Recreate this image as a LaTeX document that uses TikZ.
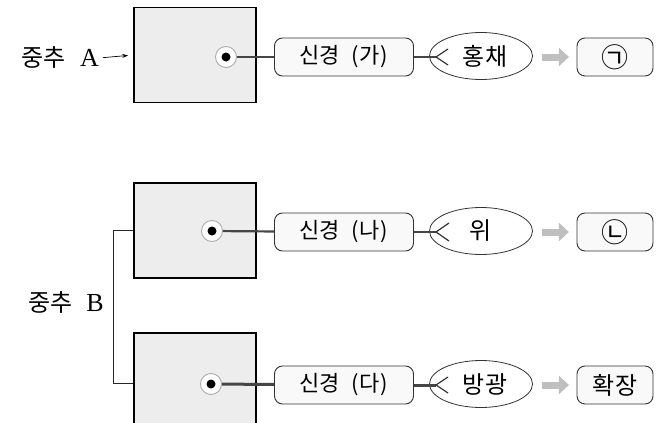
\documentclass[tikz,border=0pt]{standalone}
\usepackage{fontspec}
\setmainfont{Liberation Serif}
\newfontfamily\kor{Noto Sans CJK KR}
\usetikzlibrary{shapes.geometric,arrows.meta,positioning,calc}

\begin{document}
\begin{tikzpicture}[x=1pt, y=-1pt,
    cns/.style={rectangle, draw=black, line width=1.6pt, fill=gray!14, minimum width=122pt, minimum height=95pt},
    ring/.style={circle, draw=gray!65, fill=white, line width=0.9pt, minimum size=21pt, inner sep=0pt},
    nerve/.style={rectangle, draw=gray!40!black, fill=gray!5, rounded corners=8pt, line width=0.9pt, minimum width=139pt, minimum height=38pt, inner sep=0pt, font=\kor\fontsize{22}{24}\selectfont},
    organ/.style={ellipse, draw=gray!40!black, fill=white, line width=0.8pt, minimum width=103pt, minimum height=47pt, inner sep=0pt, font=\kor\fontsize{24}{26}\selectfont},
    effect/.style={rectangle, draw=gray!40!black, fill=gray!5, rounded corners=8pt, line width=0.9pt, minimum width=76pt, minimum height=38pt, inner sep=0pt, font=\kor\fontsize{24}{26}\selectfont},
    axon/.style={draw=gray!55!black, line width=2.2pt},
    fork/.style={draw=gray!40!black, line width=1.2pt},
    result/.style={-{Triangle[length=10pt,width=18pt]}, draw=gray!50, line width=7pt},
    pointer/.style={-{Stealth[length=6pt,width=4pt]}, line width=0.7pt, shorten >=5pt, shorten <=4pt},
    bracket/.style={draw=gray!30!black, line width=0.8pt},
    lbl/.style={inner sep=0pt, font=\fontsize{26}{30}\selectfont}
]
    \clip (0,0) rectangle (656,423);

    % Center A
    \node[cns] (cA) at (195,55) {};
    \node[lbl, anchor=east] (labA) at (99,58) {{\kor\fontsize{24}{26}\selectfont 중추}\hspace{14pt}A};
    \draw[pointer] (labA.east) -- (cA.west);
    \node[ring] (rA) at (226,57) {};
    \fill[black] (rA) circle (4.5);
    \node[nerve] (nA) at (344,57) {신경\hspace{0.5em}(\hspace{0.05em}가\hspace{0.05em})};
    \node[organ] (oA) at (481,56) {\hspace{8pt}홍채};
    \node[effect] (eA) at (615,57) {{\fontsize{27}{28}\selectfont ㉠}};
    \coordinate (fA) at (436,57);
    \draw[axon] (rA) -- (nA);
    \draw[axon] (nA.east) -- (fA);
    \draw[fork] ($(fA)+(12,-8)$) -- (fA) -- ($(fA)+(12,8)$);
    \draw[result] (oA.east) ++(9,1) -- ++(27,0) coordinate (tA);

    % Center B
    \node[cns] (cB1) at (195,230.5) {};
    \node[cns, minimum height=100pt] (cB2) at (195,383) {};
    \draw[bracket] (cB1.west) -- ++(-20,0) coordinate (bk) |- (cB2.west);
    \node[lbl, anchor=east] (labB) at (104,303) {{\kor\fontsize{24}{26}\selectfont 중추}\hspace{14pt}B};

    % upper branch
    \node[ring] (rB1) at (212,231) {};
    \fill[black] (rB1) circle (4.5);
    \node[nerve] (nB1) at (344,232) {신경\hspace{0.5em}(\hspace{0.05em}나\hspace{0.05em})};
    \node[organ] (oB1) at (481,231) {위};
    \node[effect] (eB1) at (615,232) {{\fontsize{27}{28}\selectfont ㉡}};
    \coordinate (fB1) at (436,232);
    \draw[axon] (rB1) -- (nB1);
    \draw[axon] (nB1.east) -- (fB1);
    \draw[fork] ($(fB1)+(13,-9)$) -- (fB1) -- ($(fB1)+(13,9)$);
    \draw[result] (oB1.east) ++(9,1) -- ++(27,0) coordinate (tB1);

    % lower branch
    \node[ring] (rB2) at (211,384) {};
    \fill[black] (rB2) circle (4.5);
    \node[nerve] (nB2) at (344,385) {신경\hspace{0.5em}(\hspace{0.05em}다\hspace{0.05em})};
    \node[organ] (oB2) at (481,384) {\hspace{8pt}방광};
    \node[effect] (eB2) at (615,385) {확장};
    \coordinate (fB2) at (436,385);
    \draw[axon, line width=3pt] (rB2) -- (nB2);
    \draw[axon, line width=3pt] (nB2.east) -- (fB2);
    \draw[fork] ($(fB2)+(12,-8)$) -- (fB2) -- ($(fB2)+(12,8)$);
    \draw[result] (oB2.east) ++(9,1) -- ++(27,0) coordinate (tB2);
\end{tikzpicture}
\end{document}
